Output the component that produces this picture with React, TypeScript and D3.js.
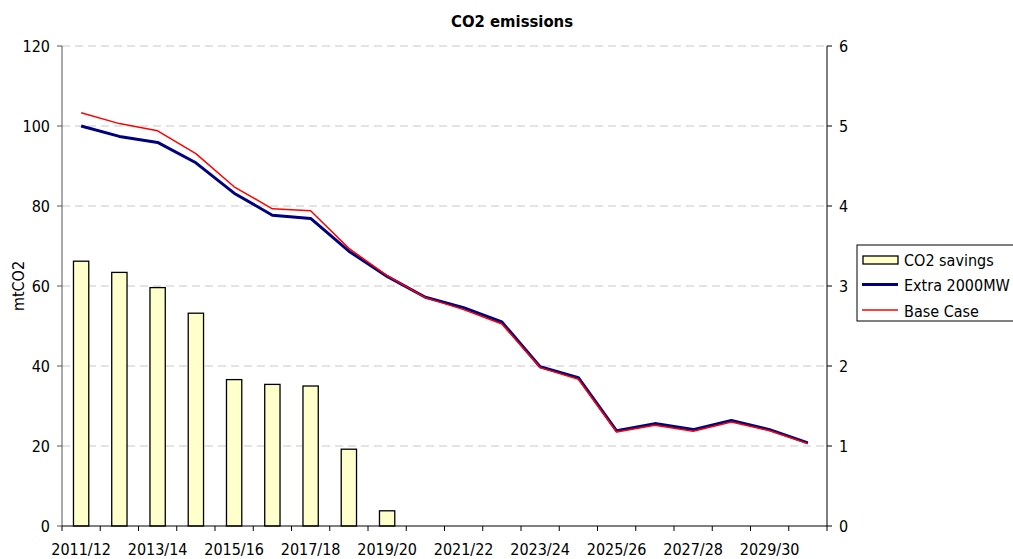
import React from "react";
import * as d3 from "d3";

// Financial years on the x axis
const years = [
  "2011/12", "2012/13", "2013/14", "2014/15", "2015/16", "2016/17", "2017/18",
  "2018/19", "2019/20", "2020/21", "2021/22", "2022/23", "2023/24", "2024/25",
  "2025/26", "2026/27", "2027/28", "2028/29", "2029/30", "2030/31",
];

// Emissions, mtCO2 (left axis)
const extra2000MW = [
  100.0, 97.4, 95.9, 90.8, 83.2, 77.7, 76.9, 68.7, 62.4, 57.2,
  54.6, 51.0, 39.8, 37.1, 23.8, 25.6, 24.1, 26.4, 24.1, 20.8,
];
const baseCase = [
  103.3, 100.6, 98.8, 93.1, 84.8, 79.3, 78.8, 69.4, 62.6, 57.1,
  54.1, 50.5, 39.6, 36.7, 23.5, 25.2, 23.7, 26.0, 23.8, 20.6,
];

// Savings, mtCO2 (right axis)
const co2Savings = [3.31, 3.17, 2.98, 2.66, 1.83, 1.77, 1.75, 0.96, 0.19];

const leftTicks = [0, 20, 40, 60, 80, 100, 120];
const rightTicks = [0, 1, 2, 3, 4, 5, 6];
const labelledYears = years.filter((_, i) => i % 2 === 0);

const W = 1013;
const H = 559;
const M = { left: 62, right: 827, top: 46, bottom: 526 };
const FONT = "'DejaVu Sans Condensed', 'DejaVu Sans', sans-serif";

export default function App() {
  const x = d3.scaleBand<string>().domain(years).range([M.left, M.right]).paddingInner(0).paddingOuter(0);
  const yL = d3.scaleLinear().domain([0, 120]).range([M.bottom, M.top]);
  const yR = d3.scaleLinear().domain([0, 6]).range([M.bottom, M.top]);
  const bw = x.bandwidth();
  const barW = bw / 2.5;
  const cx = (i: number) => (x(years[i]) as number) + bw / 2;

  const line = d3
    .line<number>()
    .x((_, i) => cx(i))
    .y((d) => yL(d));

  const boundaries = d3.range(years.length + 1).map((i) => M.left + i * bw);

  return (
    <div style={{ position: "absolute", left: 0, top: 0 }}>
      <svg width={W} height={H} style={{ display: "block", background: "#fff" }} fontFamily={FONT}>
        {/* title */}
        <text x={512} y={27} textAnchor="middle" fontSize={16.5} fontWeight="bold" fill="#000">
          CO2 emissions
        </text>

        {/* horizontal gridlines */}
        {leftTicks.filter((t) => t > 0).map((t) => (
          <line key={t} x1={M.left} x2={M.right} y1={yL(t)} y2={yL(t)} stroke="#c8c8c8" strokeWidth={1} strokeDasharray="8,5" />
        ))}

        {/* savings bars */}
        {co2Savings.map((v, i) => (
          <rect
            key={i}
            x={cx(i) - barW / 2}
            y={yR(v)}
            width={barW}
            height={yR(0) - yR(v)}
            fill="#ffffcc"
            stroke="#000"
            strokeWidth={1.3}
          />
        ))}

        {/* emission lines */}
        <path d={line(extra2000MW) as string} fill="none" stroke="#000080" strokeWidth={3} strokeLinejoin="round" />
        <path d={line(baseCase) as string} fill="none" stroke="#ff0000" strokeWidth={1.5} strokeLinejoin="round" />

        {/* left axis */}
        <line x1={M.left} x2={M.left} y1={M.top} y2={M.bottom} stroke="#555" strokeWidth={1} />
        {leftTicks.map((t) => (
          <g key={t}>
            <line x1={M.left - 5} x2={M.left} y1={yL(t)} y2={yL(t)} stroke="#555" />
            <text x={M.left - 12} y={yL(t)} dy="0.36em" textAnchor="end" fontSize={16} fill="#000">
              {t}
            </text>
          </g>
        ))}
        <text
          transform={`translate(${24},${(M.top + M.bottom) / 2}) rotate(-90)`}
          textAnchor="middle"
          fontSize={16}
          fill="#000"
        >
          mtCO2
        </text>

        {/* right axis */}
        <line x1={M.right} x2={M.right} y1={M.top} y2={M.bottom} stroke="#000" strokeWidth={1} />
        {rightTicks.map((t) => (
          <g key={t}>
            <line x1={M.right} x2={M.right + 5} y1={yR(t)} y2={yR(t)} stroke="#000" />
            <text x={M.right + 12} y={yR(t)} dy="0.36em" textAnchor="start" fontSize={16} fill="#000">
              {t}
            </text>
          </g>
        ))}

        {/* bottom axis */}
        <line x1={M.left} x2={M.right} y1={M.bottom} y2={M.bottom} stroke="#000" strokeWidth={1} />
        {boundaries.map((b, i) => (
          <line key={i} x1={b} x2={b} y1={M.bottom} y2={M.bottom + 5} stroke="#000" />
        ))}
        {labelledYears.map((yr) => (
          <text key={yr} x={(x(yr) as number) + bw / 2} y={555} textAnchor="middle" fontSize={16} fill="#000">
            {yr}
          </text>
        ))}

        {/* legend */}
        <g>
          <rect x={857} y={245} width={170} height={76} fill="#fff" stroke="#000" strokeWidth={1} />
          <rect x={863} y={256} width={35} height={8} fill="#ffffcc" stroke="#000" strokeWidth={1.3} />
          <text x={904} y={266} fontSize={16} fill="#000">CO2 savings</text>
          <line x1={862} x2={898} y1={284.5} y2={284.5} stroke="#000080" strokeWidth={3} />
          <text x={904} y={291} fontSize={16} fill="#000">Extra 2000MW</text>
          <line x1={862} x2={898} y1={310} y2={310} stroke="#ff0000" strokeWidth={1.5} />
          <text x={904} y={316.5} fontSize={16} fill="#000">Base Case</text>
        </g>
      </svg>
    </div>
  );
}
